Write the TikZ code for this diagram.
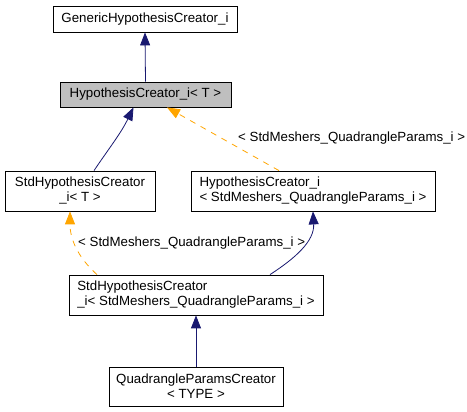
\documentclass[tikz,border=0pt]{standalone}
\usepackage{fontspec}
\setmainfont{Liberation Sans}
\usetikzlibrary{arrows.meta}

\definecolor{edgeblue}{HTML}{191970}
\definecolor{edgeorange}{HTML}{FFA500}
\definecolor{boxgray}{HTML}{BFBFBF}

\tikzset{
  classbox/.style={draw, line width=0.8pt, minimum height=40, inner sep=2pt, font=\fontsize{13.3}{15}\selectfont},
  inherit/.style={draw=edgeblue, line width=0.8pt, -{Triangle[length=13pt,width=10pt]}},
  templ/.style={draw=edgeorange, line width=0.8pt, dash pattern=on 6pt off 6pt, -{Triangle[length=13pt,width=10pt]}},
  edgelabel/.style={anchor=west, inner sep=0pt, font=\fontsize{13.3}{15}\selectfont}
}

\begin{document}
\begin{tikzpicture}[x=1pt, y=-1pt]

      % Definitions
      \def\tq{< StdMeshers\_QuadrangleParams\_i >}   % Template argument used on the orange edges

      \useasboundingbox (0,0) rectangle (467,412);

      % Class boxes
      \node [classbox, minimum width=184, minimum height=26] (generic) at (145,19) {GenericHypothesisCreator\_i};
      \node [classbox, fill=boxgray, minimum width=171, minimum height=25] (hypT) at (145.5,94.5) {HypothesisCreator\_i< T >};
      \node [classbox, align=center, minimum width=150] (stdT) at (80,191) {StdHypothesisCreator\\\_i< T >};
      \node [classbox, align=left, minimum width=244] (hypQ) at (313,191) {HypothesisCreator\_i\\\tq};
      \node [classbox, align=left, minimum width=254] (stdQ) at (196,295) {StdHypothesisCreator\\\_i\tq};
      \node [classbox, align=center, minimum width=174, minimum height=39] (quad) at (196,386.5) {QuadrangleParamsCreator\\< TYPE >};

      % Draw commands
      \draw [inherit] (hypT.north) -- (generic.south);
      \draw [inherit] ([xshift=14]stdT.north) to [out=56, in=-116] ([xshift=-12]hypT.south);
      \draw [templ] ([xshift=-34]hypQ.north) -- ([xshift=21.5]hypT.south);
      \draw [templ] ([xshift=-99]stdQ.north) to [out=138, in=-90] ([xshift=-10]stdT.south);
      \draw [inherit] ([xshift=74]stdQ.north) to [out=33, in=-87] (hypQ.south);
      \draw [inherit] (quad.north) -- (stdQ.south);

      % Labels of the template edges
      \node [edgelabel] (lblhyp) at (238,138) {\tq};
      \node [edgelabel] (lblstd) at (78,243) {\tq};

\end{tikzpicture}
\end{document}
